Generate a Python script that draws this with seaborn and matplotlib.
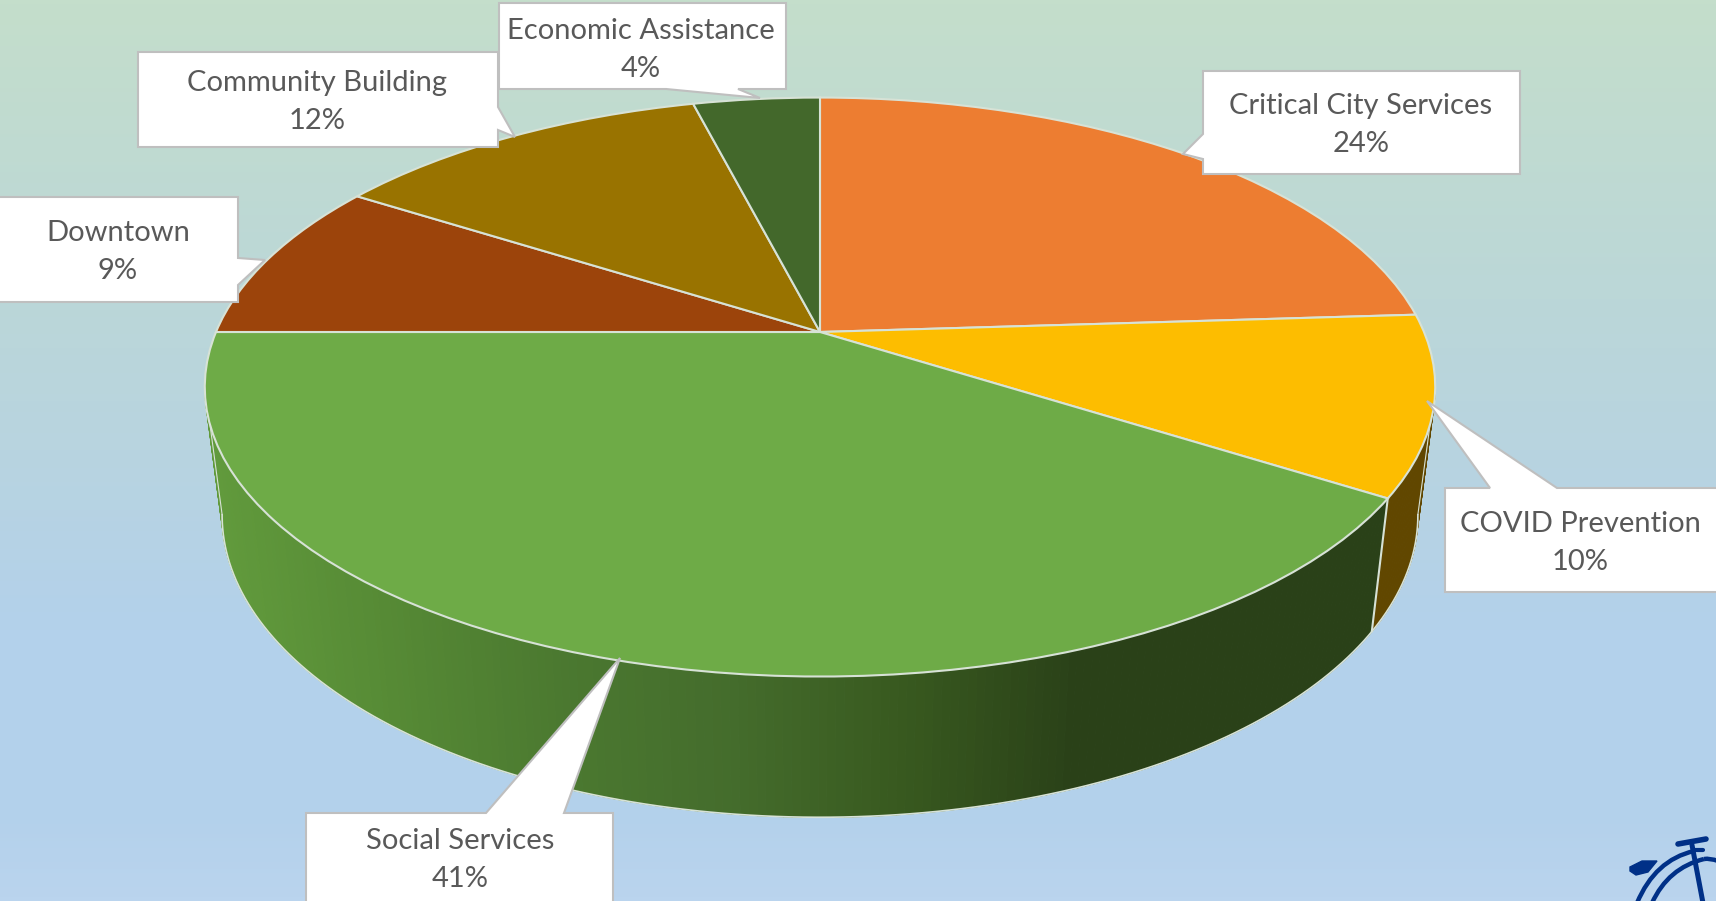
import numpy as np
import seaborn as sns
import matplotlib
matplotlib.use("Agg")
import matplotlib.pyplot as plt
import matplotlib.transforms as mtransforms
from matplotlib.collections import PolyCollection
from matplotlib.colors import LinearSegmentedColormap
from matplotlib.path import Path
from matplotlib.patches import PathPatch

# Chart values, clockwise from 12 o'clock
labels = ["Critical City Services", "COVID Prevention", "Social Services",
          "Downtown", "Community Building", "Economic Assistance"]
shares = [24, 10, 41, 9, 12, 4]
colors = ["#ed7d31", "#fdbd00", "#6eab47", "#9c440b", "#997300", "#43682b"]

# Callout text centres and outlines, in pixels
text_pos = [(1361, 125), (1580, 543), (460, 860), (118, 252), (317, 102), (641, 50)]
callouts = [
    [(1203, 71), (1520, 71), (1520, 174), (1203, 174), (1203, 159), (1183, 154), (1203, 134)],
    [(1445, 488), (1490, 488), (1427, 401), (1557, 488), (1720, 488), (1720, 592), (1445, 592)],
    [(306, 813), (486, 813), (620, 658), (564, 813), (613, 813), (613, 905), (306, 905)],
    [(-4, 197), (238, 197), (238, 258), (265, 260), (238, 285), (238, 302), (-4, 302)],
    [(138, 52), (498, 52), (498, 107), (515, 137), (498, 130), (498, 147), (138, 147)],
    [(499, 3), (786, 3), (786, 89), (738, 89), (760, 98), (666, 89), (499, 89)],
]


class TiltedDisc(mtransforms.Transform):
    # unit circle -> ellipse seen in perspective, near edge looks bigger
    input_dims = 2
    output_dims = 2

    def __init__(self, cx, cy, a, b, k=0.19):
        super().__init__()
        self.cx, self.cy, self.a, self.b, self.k = cx, cy, a, b, k

    def transform_non_affine(self, xy):
        xy = np.asarray(xy, dtype=float)
        w = 1 + self.k * xy[:, 1]
        return np.column_stack([self.cx + self.a * xy[:, 0] / w,
                                self.cy - self.b * xy[:, 1] / w])


def rim(start, stop, n=80):
    # points on the circle, angles in percent of the pie
    t = np.radians(90 - np.linspace(start, stop, n) * 3.6)
    return np.column_stack([np.cos(t), np.sin(t)])


sns.set_theme(style="white")
plt.rcParams["font.family"] = ["Lato", "DejaVu Sans"]

fig = plt.figure(figsize=(17.16, 9.01), dpi=100)
ax = fig.add_axes([0, 0, 1, 1])

top_disc = TiltedDisc(820, 332, 604, 279)
low_disc = TiltedDisc(820, 458, 587, 291)
rim_color = "#d7e2d6"

wedges, _ = ax.pie(shares, colors=colors, startangle=90, counterclock=False,
                   wedgeprops={"edgecolor": rim_color, "linewidth": 1.5, "zorder": 5})
for w in wedges:
    w.set_transform(top_disc + ax.transData)

ax.set_aspect("auto")
ax.axis("off")

# background
back = LinearSegmentedColormap.from_list("back", [(0, "#c4decb"), (0.33, "#bbd7d8"), (0.5, "#b8d4e0"),
                                                  (0.7, "#b3d1eb"), (0.9, "#b3d1eb"), (1, "#bad4ee")])
ax.imshow(np.linspace(0, 1, 256)[:, None], cmap=back, aspect="auto",
          extent=(0, 1716, 901, 0), zorder=0)
ax.set_xlim(0, 1716)
ax.set_ylim(901, 0)

# side walls of the two front slices, the disc's outline turns back near 28% and 72%
edges = np.cumsum([0] + shares)
covid_to = edges[2]
turn_right, turn_left = 28, 72

pts_top = top_disc.transform(rim(turn_right, covid_to, 30))
pts_low = low_disc.transform(rim(turn_right, covid_to, 30))
quads = [[pts_top[i], pts_top[i + 1], pts_low[i + 1], pts_low[i]] for i in range(29)]
ax.add_collection(PolyCollection(quads, facecolors="#614700", edgecolors="#614700",
                                 linewidths=0.8, zorder=2))

pts_top = top_disc.transform(rim(covid_to, turn_left, 200))
pts_low = low_disc.transform(rim(covid_to, turn_left, 200))
quads = [[pts_top[i], pts_top[i + 1], pts_low[i + 1], pts_low[i]] for i in range(199)]
shade = sns.blend_palette(["#619a3c", "#568a35", "#4b7930", "#446c2c", "#38591f", "#2a4118"], as_cmap=True)
walls = PolyCollection(quads, cmap=shade, edgecolors="face", linewidths=0.8, zorder=3)
walls.set_array((pts_top[:-1, 0] + pts_low[:-1, 0]) / 2)
walls.set_clim(220, 1080)
ax.add_collection(walls)

# light rim on the walls
ax.plot(*low_disc.transform(rim(turn_right, turn_left, 300)).T, color=rim_color, lw=1.2, zorder=3)
ax.plot(*np.array([pts_top[0], pts_low[0]]).T, color=rim_color, lw=1.5, zorder=4)
for turn in (turn_right, turn_left):
    ends = np.vstack([top_disc.transform(rim(turn, turn, 1)), low_disc.transform(rim(turn, turn, 1))])
    ax.plot(*ends.T, color=rim_color, lw=0.8, zorder=4)

# callouts
for outline, pos, label, share in zip(callouts, text_pos, labels, shares):
    ax.fill(*zip(*outline), facecolor="white", edgecolor="#bfbfbf", lw=1.5, zorder=6)
    ax.text(pos[0], pos[1], f"{label}\n{share}%", ha="center", va="center", fontsize=21,
            color="#595959", linespacing=1.53, zorder=7)

# bicycle logo, bottom right corner
navy = "#003087"
for verts in [[(1637, 903), (1655, 860), (1694, 851)],
              [(1652, 903), (1668, 868), (1704, 859)],
              [(1704, 859), (1710, 858), (1718, 861)]]:
    ax.add_patch(PathPatch(Path(verts, [Path.MOVETO, Path.CURVE3, Path.CURVE3]),
                           fill=False, edgecolor=navy, lw=3.2, zorder=2))
ax.plot([1678, 1706], [844, 839], color=navy, lw=4, solid_capstyle="round", zorder=2)
ax.plot([1692, 1703], [845, 903], color=navy, lw=3.6, zorder=2)
ax.plot([1693, 1703], [850, 850], color=navy, lw=3, zorder=2)
seat_x = [1630, 1642, 1657, 1648, 1636, 1630, 1630]
seat_y = [867, 861, 861, 872, 875, 871, 867]
ax.fill(seat_x, seat_y, color=navy, zorder=2)

fig.savefig("out.png", dpi=100)
